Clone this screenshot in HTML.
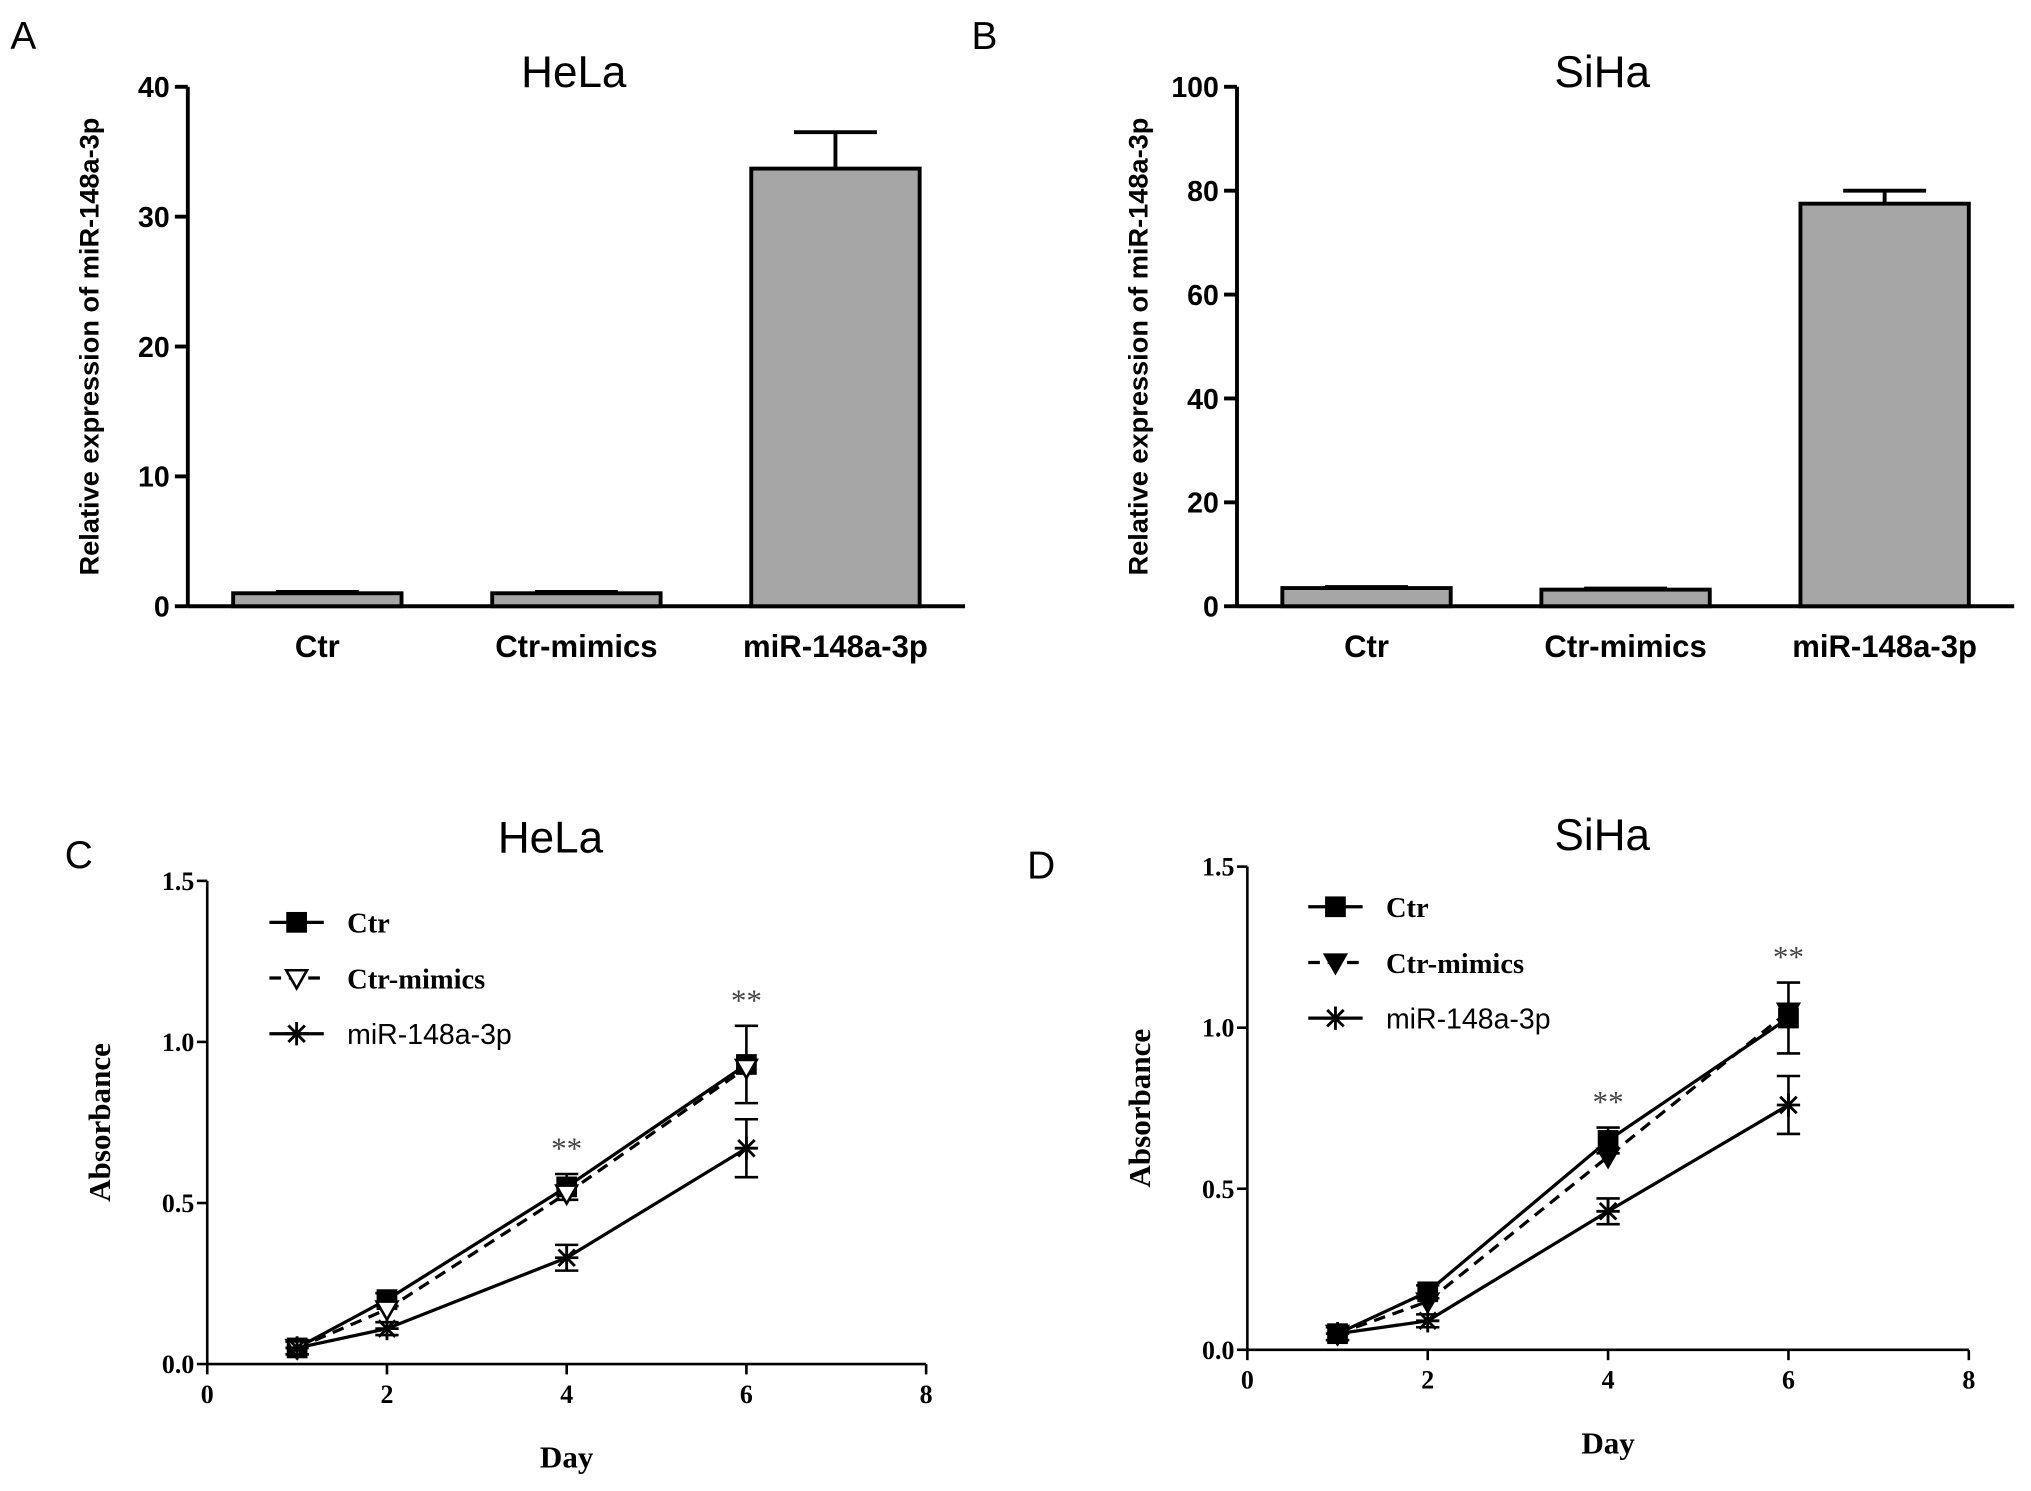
<!DOCTYPE html>
<html><head><meta charset="utf-8">
<style>
html,body{margin:0;padding:0;background:#fff;}
svg{display:block;}
.sb{font-family:"Liberation Sans",sans-serif;font-weight:bold;}
.se{font-family:"Liberation Serif",serif;font-weight:bold;}
.n{font-weight:normal;}
</style></head>
<body>
<svg id="fig" width="2031" height="1491" viewBox="0 0 1568 1151" preserveAspectRatio="none" xmlns="http://www.w3.org/2000/svg">
<g id="g"></g>
</svg>
<script>
// Bar panels data
const barCats = ["Ctr","Ctr-mimics","miR-148a-3p"];
const helaBarVals = [1.0, 1.0, 33.7];
const helaBarErr = [0.1, 0.1, 2.8];
const helaBarTicks = [0,10,20,30,40];
const sihaBarVals = [3.5, 3.2, 77.5];
const sihaBarErr = [0.2, 0.2, 2.5];
const sihaBarTicks = [0,20,40,60,80,100];
// Line panels data
const days = [1,2,4,6];
const lineTicksY = [0.0,0.5,1.0,1.5];
const lineTicksX = [0,2,4,6,8];
const seriesNames = ["Ctr","Ctr-mimics","miR-148a-3p"];
const helaCtr = [0.05,0.20,0.55,0.93];
const helaMim = [0.05,0.17,0.53,0.92];
const helaMir = [0.05,0.11,0.33,0.67];
const helaCtrErr = [0.02,0.02,0.04,0.12];
const helaMirErr = [0.02,0.02,0.04,0.09];
const sihaCtr = [0.05,0.18,0.65,1.03];
const sihaMim = [0.05,0.15,0.60,1.05];
const sihaMir = [0.05,0.09,0.43,0.76];
const sihaCtrErr = [0.02,0.02,0.04,0.11];
const sihaMirErr = [0.02,0.02,0.04,0.09];

const NS="http://www.w3.org/2000/svg";
const root=document.getElementById('g');
function el(tag,attrs,parent,txt){const e=document.createElementNS(NS,tag);for(const k in attrs)e.setAttribute(k,attrs[k]);if(txt!==undefined)e.textContent=txt;(parent||root).appendChild(e);return e;}
function grp(name){const g=el('g',{});return g;}

function barPanel(o){
  const G=grp(o.name);
  const y=v=>o.y0-(v/o.max)*(o.y0-o.y1);
  const l1=el('text',{x:o.letterX,y:38,'font-size':30,class:'sb n'},G,o.letter);
  
  const t=el('text',{x:o.titleX,y:67,'font-size':34,'text-anchor':'middle',class:'sb n'},G,o.title);
  
  el('line',{x1:o.ax,y1:o.y1,x2:o.ax,y2:o.y0,stroke:'#000','stroke-width':3},G);
  el('line',{x1:o.ax,y1:o.y0,x2:o.ax+600,y2:o.y0,stroke:'#000','stroke-width':3},G);
  o.ticks.forEach(tv=>{
    el('line',{x1:o.ax-10,y1:y(tv),x2:o.ax,y2:y(tv),stroke:'#000','stroke-width':3},G);
    const tl=el('text',{x:o.ax-14,y:y(tv)+8,'font-size':22,'text-anchor':'end',class:'sb'},G,tv);
    
  });
  barCats.forEach((c,i)=>{
    const cx=o.ax+100+200*i;
    const v=o.vals[i],e=o.err[i];
    const b=el('rect',{x:cx-65,y:y(v),width:130,height:o.y0-y(v),fill:'#a6a6a6',stroke:'#000','stroke-width':3},G);
    
    el('line',{x1:cx,y1:y(v),x2:cx,y2:y(v+e),stroke:'#000','stroke-width':3},G);
    el('line',{x1:cx-32,y1:y(v+e),x2:cx+32,y2:y(v+e),stroke:'#000','stroke-width':3},G);
    const xl=el('text',{x:cx,y:507,'font-size':24,'text-anchor':'middle',class:'sb'},G,c);
    
  });
  const yt=el('text',{x:0,y:0,'font-size':21,'text-anchor':'middle',class:'sb',transform:`translate(${o.ax-69},${(o.y0+o.y1)/2}) rotate(-90)`},G,'Relative expression of miR-148a-3p');
  
}
barPanel({name:'panel-a',letter:'A',letterX:8,title:'HeLa',titleX:443,ax:145,y0:468,y1:67,max:40,ticks:helaBarTicks,vals:helaBarVals,err:helaBarErr});
barPanel({name:'panel-b',letter:'B',letterX:750,title:'SiHa',titleX:1237,ax:955,y0:468,y1:67,max:100,ticks:sihaBarTicks,vals:sihaBarVals,err:sihaBarErr});

function marker(G,type,x,y){
  if(type===0) el('rect',{x:x-8,y:y-8,width:16,height:16,fill:'#000'},G);
  else if(type===1) el('polygon',{points:`${x-8},${y-6} ${x+8},${y-6} ${x},${y+8}`,fill:G.getAttribute('data-tri')||(G.parentNode.getAttribute('data-tri'))||'#fff',stroke:'#000','stroke-width':2},G);
  else { for(const a of [0,45,90,135]){const r=a*Math.PI/180;el('line',{x1:x-9*Math.cos(r),y1:y-9*Math.sin(r),x2:x+9*Math.cos(r),y2:y+9*Math.sin(r),stroke:'#000','stroke-width':2.2},G);} }
}

function linePanel(o){
  const G=grp(o.name);
  G.setAttribute('data-tri',o.triFill);
  const X=v=>o.ax+(v/8)*(o.xEnd-o.ax);
  const Y=v=>o.y0-(v/1.5)*(o.y0-o.y1);
  const l=el('text',{x:o.letterX,y:o.letterY,'font-size':30,class:'sb n'},G,o.letter);
  
  const t=el('text',{x:o.titleX,y:o.titleY,'font-size':34,'text-anchor':'middle',class:'sb n'},G,o.title);
  
  el('line',{x1:o.ax,y1:o.y1,x2:o.ax,y2:o.y0,stroke:'#000','stroke-width':2},G);
  el('line',{x1:o.ax,y1:o.y0,x2:o.xEnd,y2:o.y0,stroke:'#000','stroke-width':2},G);
  lineTicksY.forEach(tv=>{
    el('line',{x1:o.ax-8,y1:Y(tv),x2:o.ax,y2:Y(tv),stroke:'#000','stroke-width':2},G);
    const tl=el('text',{x:o.ax-10,y:Y(tv)+7,'font-size':20,'text-anchor':'end',class:'se'},G,tv.toFixed(1));
    
  });
  lineTicksX.forEach(tv=>{
    el('line',{x1:X(tv),y1:o.y0,x2:X(tv),y2:o.y0+8,stroke:'#000','stroke-width':2},G);
    const tl=el('text',{x:X(tv),y:o.y0+30,'font-size':20,'text-anchor':'middle',class:'se'},G,tv);
    
  });
  const series=[[o.ctr,o.ctrErr,null],[o.mim,null,'9,6'],[o.mir,o.mirErr,null]];
  series.forEach((s,si)=>{
    const pts=days.map((d,i)=>`${X(d)},${Y(s[0][i])}`).join(' ');
    const pl=el('polyline',{points:pts,fill:'none',stroke:'#000','stroke-width':2.5,'stroke-dasharray':s[2]||'none'},G);
    
    days.forEach((d,i)=>{
      if(s[1]){const e=s[1][i];
        el('line',{x1:X(d),y1:Y(s[0][i]-e),x2:X(d),y2:Y(s[0][i]+e),stroke:'#000','stroke-width':2},G);
        el('line',{x1:X(d)-9,y1:Y(s[0][i]+e),x2:X(d)+9,y2:Y(s[0][i]+e),stroke:'#000','stroke-width':2},G);
        el('line',{x1:X(d)-9,y1:Y(s[0][i]-e),x2:X(d)+9,y2:Y(s[0][i]-e),stroke:'#000','stroke-width':2},G);}
      marker(G,si,X(d),Y(s[0][i]));
    });
  });
  o.stars.forEach(d=>{
    const k=days.indexOf(d);
    const v=o.ctr[k]+o.ctrErr[k];
    const st=el('text',{x:X(d),y:Y(v)-12,'font-size':24,'text-anchor':'middle',class:'se n',fill:'#444'},G,'**');
    
  });
  seriesNames.forEach((n,i)=>{
    const ly=o.legY+i*43;
    const lg=el('g',{},G);
    
    el('line',{x1:o.legX,y1:ly,x2:o.legX+42,y2:ly,stroke:'#000','stroke-width':2.5,'stroke-dasharray':i===1?'9,6':'none'},lg);
    marker(lg,i,o.legX+21,ly);
    el('text',{x:o.legX+60,y:ly+8,'font-size':22,class:i===2?'sb n':'se'},lg,n);
  });
  const yt=el('text',{x:0,y:0,'font-size':24,'text-anchor':'middle',class:'se',transform:`translate(${o.ax-75},${(o.y0+o.y1)/2}) rotate(-90)`},G,'Absorbance');
  
  const xt=el('text',{x:X(4),y:o.y0+80,'font-size':24,'text-anchor':'middle',class:'se'},G,'Day');
  
}
linePanel({name:'panel-c',letter:'C',letterX:50,letterY:670,title:'HeLa',titleX:425,titleY:658,ax:160,xEnd:715,y0:1053,y1:680,
  triFill:'#fff',ctr:helaCtr,mim:helaMim,mir:helaMir,ctrErr:helaCtrErr,mirErr:helaMirErr,stars:[4,6],legX:208,legY:712});
linePanel({name:'panel-d',letter:'D',letterX:793,letterY:678,title:'SiHa',titleX:1237,titleY:656,ax:963,xEnd:1520,y0:1042,y1:669,
  triFill:'#000',ctr:sihaCtr,mim:sihaMim,mir:sihaMir,ctrErr:sihaCtrErr,mirErr:sihaMirErr,stars:[4,6],legX:1010,legY:700});
</script>
</body></html>
